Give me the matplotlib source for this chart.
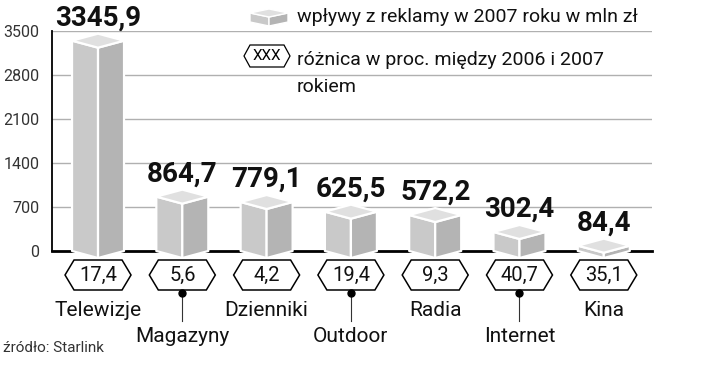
import matplotlib.pyplot as plt
from matplotlib.patches import Polygon

plt.rcParams['font.family'] = ['Roboto', 'DejaVu Sans']

kategorie = ['Telewizje', 'Magazyny', 'Dzienniki', 'Outdoor', 'Radia', 'Internet', 'Kina']
wplywy = [3345.9, 864.7, 779.1, 625.5, 572.2, 302.4, 84.4]
zmiana = [17.4, 5.6, 4.2, 19.4, 9.3, 40.7, 35.1]
yticks = [0, 700, 1400, 2100, 2800, 3500]


def fmt(v):
    return f'{v:.1f}'.replace('.', ',')


W, H = 720, 371
fig = plt.figure(figsize=(W / 100, H / 100), dpi=100)
ax = fig.add_axes([52 / W, 120 / H, 600 / W, 220 / H])
ax.set_xlim(-0.546, 6.572)
ax.set_ylim(0, 3500)

# przeliczenie pikseli na jednostki danych
sx = (6.572 + 0.546) / 600
sy = 3500 / 220

ax.set_yticks(yticks)
ax.set_xticks([])
ax.tick_params(axis='y', length=0, pad=9, labelsize=11.5, labelcolor='#333333')
ax.yaxis.grid(True, color='#b0b0b0', lw=1)
ax.set_axisbelow(True)
for s in ['top', 'right']:
    ax.spines[s].set_visible(False)
ax.spines['left'].set_linewidth(1.3)
ax.spines['bottom'].set_linewidth(2)

w = 26 * sx
d = 7 * sy
for i, v in enumerate(wplywy):
    lewa = [(i - w, 0), (i - w, v), (i, v - d), (i, -d)]
    prawa = [(i, -d), (i, v - d), (i + w, v), (i + w, 0)]
    gora = [(i - w, v), (i, v + d), (i + w, v), (i, v - d)]
    for pts, c in ((lewa, '#c9c9c9'), (prawa, '#b4b4b4'), (gora, '#e0e0e0')):
        ax.add_patch(Polygon(pts, closed=True, fc=c, ec='white', lw=1.6,
                             joinstyle='round', clip_on=False, zorder=3))
    ax.text(i, v + d + 8 * sy, fmt(v), ha='center', va='baseline',
            fontsize=20, fontweight='bold', color='#111111')

    # sześciokąt ze zmianą procentową
    cy = -24 * sy
    hh = 15 * sy
    hw = 33 * sx
    hf = 24 * sx
    hexa = [(i - hw, cy), (i - hf, cy + hh), (i + hf, cy + hh),
            (i + hw, cy), (i + hf, cy - hh), (i - hf, cy - hh)]
    ax.add_patch(Polygon(hexa, closed=True, fc='white', ec='black', lw=1.1,
                         clip_on=False, zorder=3))
    ax.text(i, cy, fmt(zmiana[i]), ha='center', va='center', fontsize=14.5,
            color='#111111')

    if i % 2 == 0:
        ax.text(i, -59 * sy, kategorie[i], ha='center', va='center',
                fontsize=15, color='#111111')
    else:
        ax.plot([i, i], [cy - hh, -70 * sy], color='#333333', lw=0.8,
                clip_on=False, zorder=2)
        ax.plot(i, cy - hh - 3 * sy, 'o', color='black', ms=5, clip_on=False,
                zorder=4)
        ax.text(i, -86 * sy, kategorie[i], ha='center', va='center',
                fontsize=15, color='#111111')


# legenda (w pikselach od lewego górnego rogu)
def fx(px):
    return px / W


def fy(py):
    return 1 - py / H


cx, lw_, top, bot, dd = 269, 19, 13, 22, 4
ikona_l = [(cx - lw_, top), (cx - lw_, bot), (cx, bot + dd), (cx, top + dd)]
ikona_p = [(cx, top + dd), (cx, bot + dd), (cx + lw_, bot), (cx + lw_, top)]
ikona_g = [(cx - lw_, top), (cx, top - dd), (cx + lw_, top), (cx, top + dd)]
for pts, c in ((ikona_l, '#c9c9c9'), (ikona_p, '#b4b4b4'), (ikona_g, '#e0e0e0')):
    fig.patches.append(Polygon([(fx(a), fy(b)) for a, b in pts], closed=True,
                               fc=c, ec='white', lw=1, transform=fig.transFigure))

hx, hyc = 267, 56
hexa = [(hx - 23, hyc), (hx - 17, hyc - 11), (hx + 17, hyc - 11),
        (hx + 23, hyc), (hx + 17, hyc + 11), (hx - 17, hyc + 11)]
fig.patches.append(Polygon([(fx(a), fy(b)) for a, b in hexa], closed=True,
                           fc='white', ec='black', lw=0.9,
                           transform=fig.transFigure))
fig.text(fx(hx), fy(hyc), 'XXX', ha='center', va='center', fontsize=11)

fig.text(fx(297), fy(17), 'wpływy z reklamy w 2007 roku w mln zł',
         ha='left', va='center', fontsize=14, color='#111111')
fig.text(fx(297), fy(60), 'różnica w proc. między 2006 i 2007',
         ha='left', va='center', fontsize=14, color='#111111')
fig.text(fx(297), fy(87), 'rokiem', ha='left', va='center', fontsize=14,
         color='#111111')

fig.text(fx(3), fy(348), 'źródło: Starlink', ha='left', va='center',
         fontsize=11, color='#333333')

fig.savefig('out.png', dpi=100)
